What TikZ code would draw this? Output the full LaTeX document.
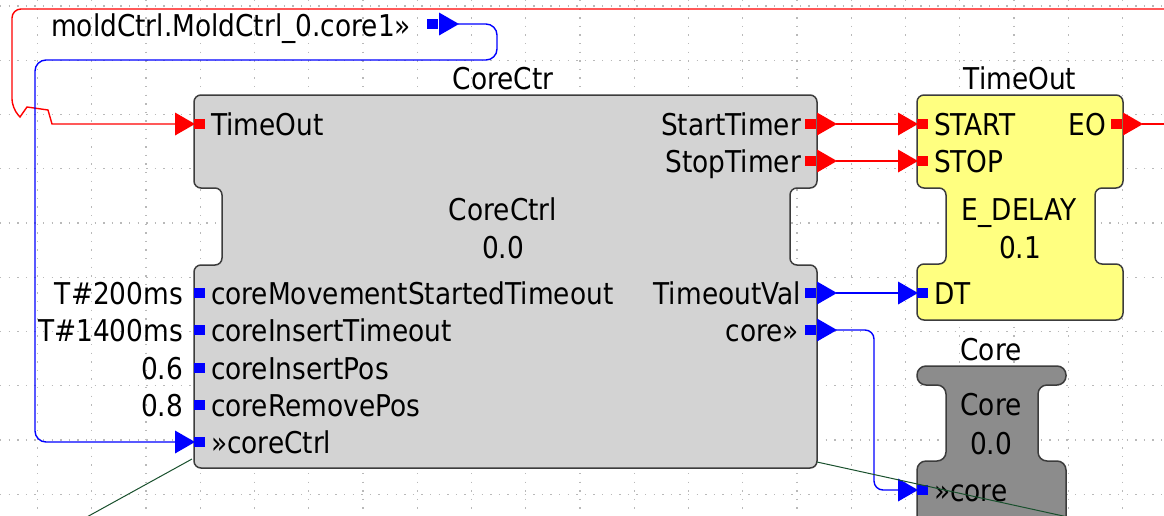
\documentclass[tikz,border=0pt]{standalone}
\usepackage{fontspec}
\setmainfont{DejaVu Sans}[FakeStretch=0.88]
\newcommand\dgfont{\fontsize{30}{36}\selectfont}
\definecolor{gridc}{RGB}{185,185,185}
\definecolor{blkline}{RGB}{60,60,60}
\definecolor{ctrfill}{RGB}{211,211,211}
\definecolor{tofill}{RGB}{255,255,128}
\definecolor{corefill}{RGB}{140,140,140}
\definecolor{evred}{RGB}{255,0,0}
\definecolor{datblue}{RGB}{0,0,255}
\definecolor{assoc}{RGB}{25,80,45}
% input port with arrow triangle: name, edge x, y, colour
\newcommand\InPort[4]{%
  \fill[#4] (#2,#3-5) rectangle (#2+11,#3+5);
  \fill[#4] (#2-19,#3-11.5) -- (#2+1,#3) -- (#2-19,#3+11.5) -- cycle;
  \coordinate (#1) at (#2-18,#3);}
% input port marker only: edge x, y, colour
\newcommand\InMark[3]{%
  \fill[#3] (#1,#2-5) rectangle (#1+11,#2+5);}
% output port with arrow triangle: name, edge x, y, colour
\newcommand\OutPort[4]{%
  \fill[#4] (#2-12,#3-5) rectangle (#2-1,#3+5);
  \fill[#4] (#2,#3-11.5) -- (#2+20,#3) -- (#2,#3+11.5) -- cycle;
  \coordinate (#1) at (#2+19,#3);}
\begin{document}
\begin{tikzpicture}[x=1pt,y=-1pt,
  every node/.style={inner sep=0pt,outer sep=0pt,font=\dgfont},
  blk/.style={draw=blkline,line width=1.5pt,rounded corners=7pt},
  gridline/.style={draw=gridc,line width=1.4pt,dash pattern=on 1.4pt off 7.2pt},
  redwire/.style={draw=evred,line width=1.4pt},
  bluewire/.style={draw=datblue,line width=1.4pt},
  assocline/.style={draw=assoc,line width=1pt},
  inlbl/.style={anchor=base west},
  outlbl/.style={anchor=base east},
  ctrlbl/.style={anchor=base}]
\useasboundingbox (0,0) rectangle (1164,515);
\clip (0,0) rectangle (1164,515);
\fill[white] (0,0) rectangle (1164,515);
% grid
\foreach \i in {0,...,20} \draw[gridline] (37.5+54.25*\i,0) -- (37.5+54.25*\i,515);
\foreach \j in {0,...,9} \draw[gridline] (0,6+54.25*\j) -- (1164,6+54.25*\j);

% ---------- CoreCtr block ----------
\draw[blk,fill=ctrfill] (194,95) -- (817,95) -- (817,188) -- (790,188) -- (790,265) -- (817,265)
  -- (817,468) -- (194,468) -- (194,265) -- (222,265) -- (222,188) -- (194,188) -- cycle;
\node[ctrlbl] (ctr-title) at (503,89) {CoreCtr};
\node[ctrlbl] (ctr-type) at (503,220) {CoreCtrl};
\node[ctrlbl] (ctr-ver) at (503,258) {0.0};
\InPort{ctr-in-timeout}{194}{124}{evred}
\node[inlbl] (ctr-l-timeout) at (211,135) {TimeOut};
\InMark{194}{293}{datblue}
\node[inlbl] (ctr-l-cmst) at (211,304) {coreMovementStartedTimeout};
\InMark{194}{330}{datblue}
\node[inlbl] (ctr-l-cit) at (211,341) {coreInsertTimeout};
\InMark{194}{368}{datblue}
\node[inlbl] (ctr-l-cip) at (211,379) {coreInsertPos};
\InMark{194}{405}{datblue}
\node[inlbl] (ctr-l-crp) at (211,416) {coreRemovePos};
\InPort{ctr-in-corectrl}{194}{442}{datblue}
\node[inlbl] (ctr-l-corectrl) at (211,453) {»coreCtrl};
\node[outlbl] (par-1) at (183,304) {T\#200ms};
\node[outlbl] (par-2) at (183,341) {T\#1400ms};
\node[outlbl] (par-3) at (183,379) {0.6};
\node[outlbl] (par-4) at (183,416) {0.8};
\OutPort{ctr-out-start}{817}{124}{evred}
\node[outlbl] (ctr-l-start) at (801,135) {StartTimer};
\OutPort{ctr-out-stop}{817}{161}{evred}
\node[outlbl] (ctr-l-stop) at (801,172) {StopTimer};
\OutPort{ctr-out-tov}{817}{293}{datblue}
\node[outlbl] (ctr-l-tov) at (801,304) {TimeoutVal};
\OutPort{ctr-out-core}{817}{330}{datblue}
\node[outlbl] (ctr-l-core) at (799,341) {core»};

% ---------- TimeOut block ----------
\draw[blk,fill=tofill] (917,95) -- (1123,95) -- (1123,188) -- (1095,188) -- (1095,264) -- (1123,264)
  -- (1123,320) -- (917,320) -- (917,264) -- (946,264) -- (946,188) -- (917,188) -- cycle;
\node[ctrlbl] (to-title) at (1020,89) {TimeOut};
\node[ctrlbl] (to-type) at (1019,220) {E\_DELAY};
\node[ctrlbl] (to-ver) at (1020,258) {0.1};
\InPort{to-in-start}{917}{124}{evred}
\node[inlbl] (to-l-start) at (934,135) {START};
\InPort{to-in-stop}{917}{161}{evred}
\node[inlbl] (to-l-stop) at (934,172) {STOP};
\InPort{to-in-dt}{917}{293}{datblue}
\node[inlbl] (to-l-dt) at (934,304) {DT};
\OutPort{to-out-eo}{1123}{124}{evred}
\node[outlbl] (to-l-eo) at (1106,135) {EO};

% ---------- Core block ----------
\draw[blk,rounded corners=9pt,fill=corefill] (917,366) -- (1066,366) -- (1066,385) -- (1038,385) -- (1038,461)
  -- (1066,461) -- (1066,545) -- (917,545) -- (917,461) -- (946,461) -- (946,385) -- (917,385) -- cycle;
\node[ctrlbl] (core-title) at (991,360) {Core};
\node[ctrlbl] (core-type) at (991,415) {Core};
\node[ctrlbl] (core-ver) at (991,454) {0.0};
\InPort{core-in-core}{917}{490}{datblue}
\node[inlbl] (core-l-core) at (934,501) {»core};

% ---------- adapter label ----------
\node[outlbl] (mold-l) at (411,36) {moldCtrl.MoldCtrl\_0.core1»};
\OutPort{mold-out}{439}{24}{datblue}

% ---------- connections ----------
\coordinate (top-right) at (1170,9);
\coordinate (eo-right) at (1170,124);
\draw[redwire] (ctr-out-start) -- (to-in-start);
\draw[redwire] (ctr-out-stop) -- (to-in-stop);
\draw[redwire] (to-out-eo) -- (eo-right);
\draw[redwire] (top-right) [rounded corners=9pt] -- (12,9) -- (12,108) [sharp corners]
  -- (20,117) -- (27,107) -- (48,110) -- (52,124) -- (ctr-in-timeout);
\draw[bluewire] (ctr-out-tov) -- (to-in-dt);
\draw[bluewire,rounded corners=9pt] (ctr-out-core) -- (874,330) -- (874,490) -- (core-in-core);
\draw[bluewire,rounded corners=11pt] (mold-out) -- (497,24) -- (497,60) -- (35,60) -- (35,442) -- (ctr-in-corectrl);

% association lines
\coordinate (ctr-sw) at (192,459);
\coordinate (ctr-se) at (817,462);
\coordinate (assoc-l) at (85,518);
\coordinate (assoc-r) at (1175,540.5);
\draw[assocline] (ctr-sw) -- (assoc-l);
\draw[assocline] (ctr-se) -- (assoc-r);
\end{tikzpicture}
\end{document}
